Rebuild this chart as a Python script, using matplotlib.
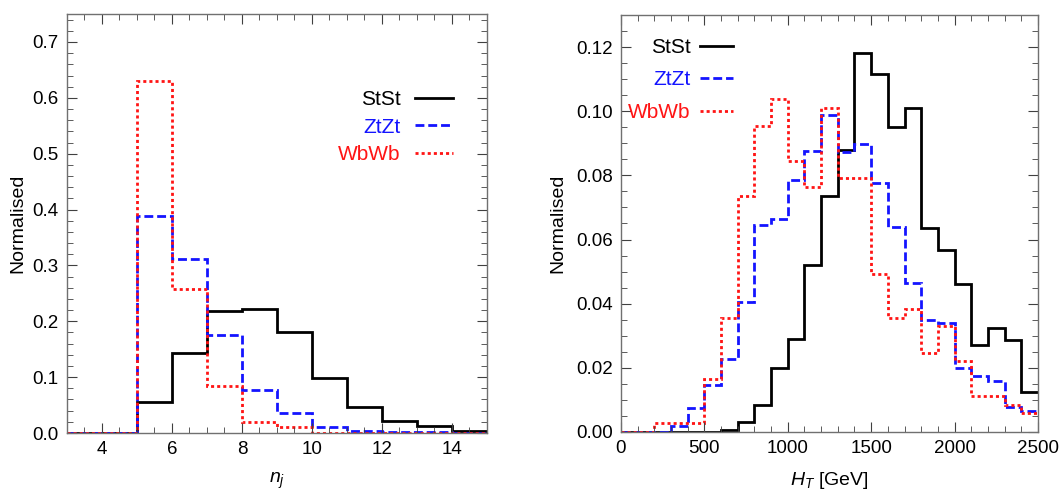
import numpy as np
import matplotlib
matplotlib.use("Agg")
import matplotlib.pyplot as plt
from matplotlib.ticker import MultipleLocator, FormatStrFormatter

plt.rcParams['font.family'] = ['Liberation Sans', 'DejaVu Sans']
plt.rcParams['mathtext.fontset'] = 'custom'
plt.rcParams['mathtext.it'] = 'Liberation Sans:italic'
plt.rcParams['mathtext.rm'] = 'Liberation Sans'

# jet multiplicity histogram (bins of width 1 from 3 to 15)
nj_edges = np.arange(3, 16, 1)
nj_stst = [0, 0, 0.055, 0.143, 0.219, 0.222, 0.180, 0.099, 0.046, 0.021, 0.012, 0.003]
nj_ztzt = [0, 0, 0.389, 0.311, 0.175, 0.077, 0.035, 0.010, 0.003, 0.001, 0.001, 0.0]
nj_wbwb = [0, 0, 0.630, 0.257, 0.084, 0.019, 0.011, 0.0, 0.0, 0.0, 0.0, 0.0]

# HT histogram (bins of 100 GeV from 0 to 2500)
ht_edges = np.arange(0, 2600, 100)
ht_stst = [0, 0, 0, 0, 0, 0, 0.0005, 0.003, 0.0085, 0.020, 0.029, 0.052, 0.0737,
           0.088, 0.118, 0.1116, 0.095, 0.101, 0.0635, 0.0566, 0.0462, 0.027,
           0.0324, 0.0286, 0.0125]
ht_ztzt = [0, 0, 0, 0.002, 0.0076, 0.0145, 0.0226, 0.0405, 0.0646, 0.0665, 0.0787,
           0.0875, 0.0987, 0.0873, 0.0897, 0.0775, 0.064, 0.0465, 0.0349, 0.0341,
           0.020, 0.0175, 0.016, 0.0077, 0.0066]
ht_wbwb = [0, 0, 0.0028, 0.0028, 0.0028, 0.0165, 0.0356, 0.0737, 0.0955, 0.1038,
           0.0846, 0.0765, 0.101, 0.0792, 0.0792, 0.0491, 0.0355, 0.0383, 0.0247,
           0.033, 0.022, 0.0111, 0.0111, 0.0085, 0.0058]

labels = ["StSt", "ZtZt", "WbWb"]
colors = ["black", "#1414ff", "#ff1414"]
styles = ["-", (0, (3.2, 1.4)), (0, (1.1, 1.1))]
widths = [2.0, 2.0, 2.0]

fig = plt.figure(figsize=(10.6, 4.9), dpi=100)
ax1 = fig.add_axes([0.0632, 0.1163, 0.3962, 0.855])
ax2 = fig.add_axes([0.5858, 0.1184, 0.3934, 0.851])


def draw(ax, edges, series, ylabelpad):
    for vals, lab, c, ls, lw in zip(series, labels, colors, styles, widths):
        ax.stairs(vals, edges, baseline=None, color=c, linestyle=ls,
                  linewidth=lw, label=lab)
    for s in ax.spines.values():
        s.set_color('#707070')
        s.set_linewidth(1.0)
    ax.tick_params(which='both', direction='in', top=True, right=True,
                   color='#404040', labelsize=13.5, pad=6)
    ax.tick_params(which='major', length=7)
    ax.tick_params(which='minor', length=4)
    ax.set_ylabel("Normalised", fontsize=14, labelpad=ylabelpad)


draw(ax1, nj_edges, [nj_stst, nj_ztzt, nj_wbwb], 4)
ax1.set_xlim(3, 15)
ax1.set_ylim(0, 0.75)
ax1.xaxis.set_major_locator(MultipleLocator(2))
ax1.xaxis.set_minor_locator(MultipleLocator(0.5))
ax1.yaxis.set_major_locator(MultipleLocator(0.1))
ax1.yaxis.set_minor_locator(MultipleLocator(0.02))
ax1.set_xlabel("$n_j$", fontsize=14, labelpad=9)
ax1.legend(loc='upper right', bbox_to_anchor=(0.919, 0.818), frameon=False,
           markerfirst=False, labelcolor='linecolor', fontsize=15,
           handlelength=1.8, handletextpad=0.7, labelspacing=0.4,
           borderpad=0, borderaxespad=0, alignment='right')

draw(ax2, ht_edges, [ht_stst, ht_ztzt, ht_wbwb], 7)
ax2.set_xlim(0, 2500)
ax2.set_ylim(0, 0.13)
ax2.xaxis.set_major_locator(MultipleLocator(500))
ax2.xaxis.set_minor_locator(MultipleLocator(100))
ax2.yaxis.set_major_locator(MultipleLocator(0.02))
ax2.yaxis.set_minor_locator(MultipleLocator(0.005))
ax2.yaxis.set_major_formatter(FormatStrFormatter('%.2f'))
ax2.set_xlabel("$H_T$ [GeV]", fontsize=14, labelpad=9)
ax2.legend(loc='upper right', bbox_to_anchor=(0.269, 0.945), frameon=False,
           markerfirst=False, labelcolor='linecolor', fontsize=15,
           handlelength=1.6, handletextpad=0.45, labelspacing=0.65,
           borderpad=0, borderaxespad=0, alignment='right')

fig.savefig("out.png", dpi=100)
